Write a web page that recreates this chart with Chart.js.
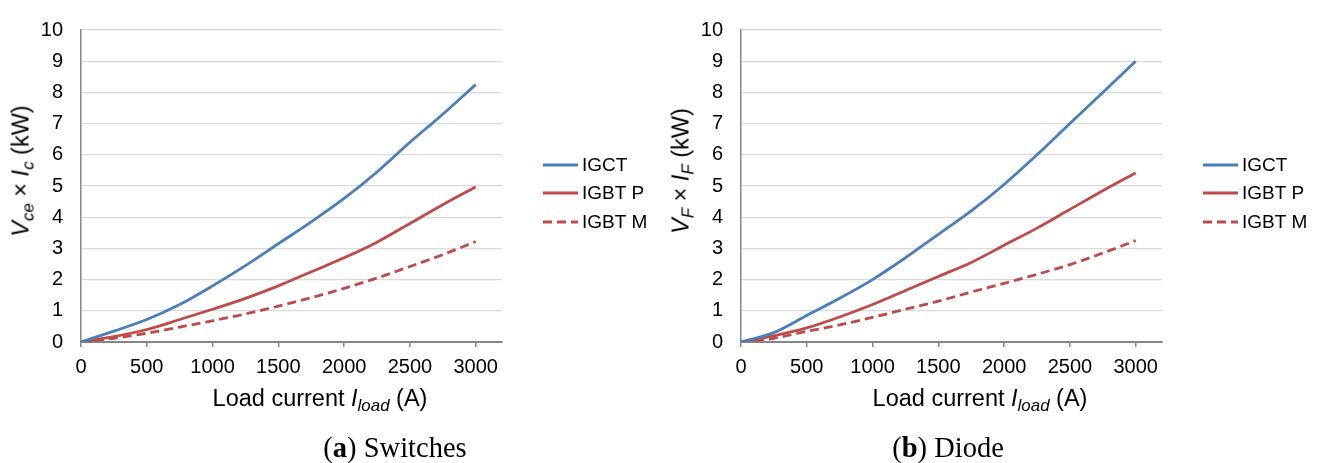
<!DOCTYPE html>
<html>
<head>
<meta charset="utf-8">
<script src="https://cdn.jsdelivr.net/npm/chart.js@4.4.1/dist/chart.umd.min.js"></script>
<style>
  body { margin: 0; background: #fff; }
  #page { position: relative; width: 1317px; height: 463px; overflow: hidden; background: #fff; font-family: "Liberation Sans", Arial, sans-serif; }
  canvas { position: absolute; top: 0; }
  .xtitle, .ytitle, .caption { position: absolute; white-space: nowrap; color: #000; }
  .xtitle { font-size: 23.5px; transform: translate(-50%, -50%); }
  .ytitle { font-size: 23.5px; transform: translate(-50%, -50%) rotate(-90deg); }
  .caption { font-family: "Liberation Serif", "Times New Roman", serif; font-size: 28.5px; transform: translateX(-50%); }
  sub { font-size: 0.72em; vertical-align: -0.3em; line-height: 0; }
</style>
</head>
<body>
<div id="page">
  <canvas id="js--chart-a" width="660" height="400" style="left:0"></canvas>
  <canvas id="js--chart-b" width="660" height="400" style="left:660px"></canvas>

  <div class="ytitle" style="left:21px; top:171px"><i>V</i><sub><i>ce</i></sub> &times; <i>I</i><sub><i>c</i></sub> (kW)</div>
  <div class="ytitle" style="left:681px; top:171px"><i>V</i><sub><i>F</i></sub> &times; <i>I</i><sub><i>F</i></sub> (kW)</div>

  <div class="xtitle" style="left:320px; top:398px">Load current <i>I</i><sub><i>load</i></sub> (A)</div>
  <div class="xtitle" style="left:980px; top:398px">Load current <i>I</i><sub><i>load</i></sub> (A)</div>

  <div class="caption" style="left:395px; top:432px">(<b>a</b>) Switches</div>
  <div class="caption" style="left:948px; top:432px">(<b>b</b>) Diode</div>
</div>
<script>
const currents = [0, 250, 500, 750, 1000, 1250, 1500, 1750, 2000, 2250, 2500, 2750, 3000];
const seriesNames = ["IGCT", "IGBT P", "IGBT M"];

// (a) switches, kW
const swIGCT  = [0, 0.35, 0.72, 1.2, 1.8, 2.45, 3.15, 3.85, 4.6, 5.45, 6.4, 7.3, 8.25];
const swIGBTP = [0, 0.17, 0.4, 0.72, 1.05, 1.4, 1.8, 2.25, 2.7, 3.2, 3.8, 4.4, 4.97];
const swIGBTM = [0, 0.12, 0.28, 0.48, 0.68, 0.9, 1.15, 1.42, 1.72, 2.05, 2.42, 2.8, 3.22];

// (b) diode, kW
const diIGCT  = [0, 0.3, 0.85, 1.4, 2.0, 2.7, 3.45, 4.2, 5.05, 6.0, 7.0, 8.0, 9.0];
const diIGBTP = [0, 0.2, 0.45, 0.8, 1.2, 1.65, 2.1, 2.55, 3.1, 3.65, 4.25, 4.85, 5.42];
const diIGBTM = [0, 0.12, 0.34, 0.55, 0.79, 1.05, 1.31, 1.6, 1.88, 2.17, 2.48, 2.85, 3.25];

const yTicks = [0, 1, 2, 3, 4, 5, 6, 7, 8, 9, 10];
const xTicks = [0, 500, 1000, 1500, 2000, 2500, 3000];

const blue = '#4a7ebb';
const red = '#be4b48';

// legend drawn by hand so it can sit away from the plot like in the original
const sideLegend = {
    id: 'sideLegend',
    afterDraw(chart) {
        const ctx = chart.ctx;
        const ys = [165, 193, 222];
        ctx.save();
        chart.data.datasets.forEach((ds, i) => {
            ctx.strokeStyle = ds.borderColor;
            ctx.lineWidth = 3;
            ctx.setLineDash(ds.borderDash || []);
            ctx.beginPath();
            ctx.moveTo(543, ys[i]);
            ctx.lineTo(578, ys[i]);
            ctx.stroke();
            ctx.setLineDash([]);
            ctx.fillStyle = '#000';
            ctx.font = '19px "Liberation Sans", Arial, sans-serif';
            ctx.textBaseline = 'middle';
            ctx.fillText(ds.label, 582, ys[i] + 1);
        });
        ctx.restore();
    }
};

function toPoints(values) {
    return values.map((v, i) => ({x: currents[i], y: v}));
}

function makeChart(id, igct, igbtp, igbtm) {
    return new Chart(document.getElementById(id), {
        type: 'line',
        data: {
            datasets: [
                {label: seriesNames[0], data: toPoints(igct), borderColor: blue, borderWidth: 2.8},
                {label: seriesNames[1], data: toPoints(igbtp), borderColor: red, borderWidth: 2.8},
                {label: seriesNames[2], data: toPoints(igbtm), borderColor: red, borderWidth: 2.8, borderDash: [9, 5]}
            ]
        },
        options: {
            responsive: false,
            animation: false,
            devicePixelRatio: 1,
            layout: {padding: {left: 0, top: 22, right: 158, bottom: 0}},
            elements: {
                point: {radius: 0},
                line: {cubicInterpolationMode: 'monotone', fill: false}
            },
            plugins: {legend: {display: false}, tooltip: {enabled: false}},
            scales: {
                x: {
                    type: 'linear',
                    min: 0,
                    max: 3200,
                    afterBuildTicks: (axis) => { axis.ticks = xTicks.map(v => ({value: v})); },
                    afterFit: (axis) => { axis.height = 58; },
                    grid: {drawOnChartArea: false, drawTicks: true, tickLength: 5, color: '#868686', lineWidth: 1.5},
                    border: {color: '#868686', width: 2},
                    ticks: {
                        color: '#000',
                        font: {size: 20, family: '"Liberation Sans", Arial, sans-serif'},
                        padding: 8,
                        maxRotation: 0,
                        callback: (v) => String(v)
                    }
                },
                y: {
                    min: 0,
                    max: 10,
                    afterBuildTicks: (axis) => { axis.ticks = yTicks.map(v => ({value: v})); },
                    afterFit: (axis) => { axis.width = 81; },
                    grid: {color: '#d9d9d9', lineWidth: 1.3, drawTicks: false},
                    border: {color: '#868686', width: 1.5},
                    ticks: {
                        color: '#000',
                        font: {size: 20, family: '"Liberation Sans", Arial, sans-serif'},
                        padding: 18,
                        callback: (v) => String(v)
                    }
                }
            }
        },
        plugins: [sideLegend]
    });
}

const chartA = makeChart("js--chart-a", swIGCT, swIGBTP, swIGBTM);
const chartB = makeChart("js--chart-b", diIGCT, diIGBTP, diIGBTM);
</script>
</body>
</html>
